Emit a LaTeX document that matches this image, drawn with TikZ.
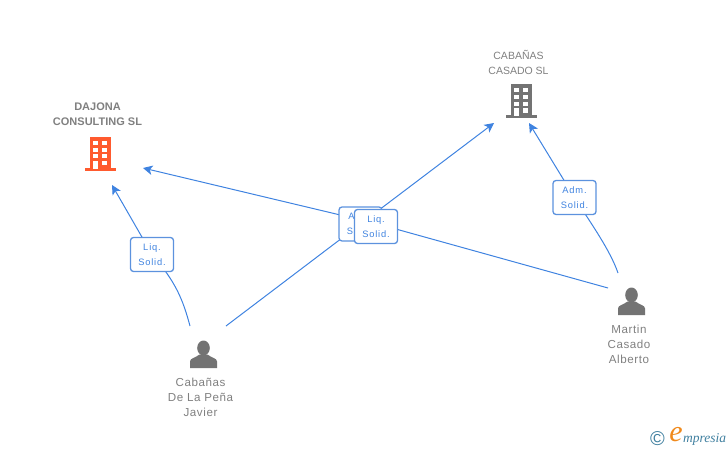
\documentclass[tikz,border=0pt]{standalone}
\usepackage{fontspec}
\setmainfont{Liberation Sans}
\newfontfamily\boxfont[LetterSpace=9]{Liberation Sans}
\newfontfamily\persfont[LetterSpace=5]{Liberation Sans}
\newfontfamily\logofont{Liberation Serif}
\usetikzlibrary{arrows.meta,backgrounds}
\definecolor{linkblue}{HTML}{3F83E0}
\definecolor{boxblue}{HTML}{5C92DE}
\definecolor{labelgray}{HTML}{808080}
\definecolor{icongray}{HTML}{737373}
\definecolor{iconred}{HTML}{FF5A2E}
\definecolor{logoblue}{HTML}{3F7F9F}
\definecolor{logoorange}{HTML}{F08A1D}
\tikzset{
    link/.style={linkblue,line width=1pt},
    tiplink/.style={link,-{Stealth[length=9.5pt,width=9.5pt,inset=2.5pt]}},
    rolebox/.style={draw=boxblue,line width=1.3pt,fill=white,rounded corners=3pt,minimum width=43pt,minimum height=34pt,inner sep=0pt,align=center,text=linkblue,font=\boxfont\fontsize{9.3}{15}\selectfont},
    company/.style={text=labelgray,align=center,inner sep=0pt,font=\fontsize{10.5}{15}\selectfont},
    person/.style={text=labelgray,align=center,inner sep=0pt,font=\persfont\fontsize{11.6}{15}\selectfont},
    building/.pic={
        \fill[pic actions](-10.5,-17)rectangle(10.5,15);
        \fill[pic actions](-15.5,14)rectangle(15.5,17);
        \foreach \wy in {-13,-6,0.5}{
            \fill[white](-7,\wy)rectangle(-2.3,\wy+4.4);
            \fill[white](2.3,\wy)rectangle(7.3,\wy+4.4);
        }
        \fill[white](2.3,7.2)rectangle(7.3,11.6);
        \fill[white](-7,7.2)rectangle(-2.3,15);
    },
    figure/.pic={
        \fill[pic actions](0,-6.5)ellipse(6.3 and 7.5);
        \fill[pic actions](-13.5,13.5)--(-13.5,7).. controls (-13.5,3.5) and (-8,3.5) .. (-4,0)--(4,0).. controls (8,3.5) and (13.5,3.5) .. (13.5,7)--(13.5,13.5)--cycle;
    }
}
\begin{document}
\begin{tikzpicture}[x=1pt,y=-1pt]
    \useasboundingbox(0,0)rectangle(728,450);

    \node[company,font=\bfseries\fontsize{11}{15}\selectfont](dajona)at(97.5,114.5){DAJONA\\CONSULTING SL};
    \node[company](casado)at(518.5,62.5){CABAÑAS\\CASADO SL};
    \node[person](javier)at(200.5,397){Cabañas\\De La Peña\\Javier};
    \node[person](martin)at(629,344){Martin\\Casado\\Alberto};

    \pic[fill=iconred]at(100,153.5){building};
    \pic[fill=icongray]at(521,101){building};
    \pic[fill=icongray]at(203.5,354.5){figure};
    \pic[fill=icongray]at(631.5,301.5){figure};

    \node[rolebox](liqleft)at(152,254.5){Liq.\\Solid.};
    \node[rolebox](admright)at(574.5,197.5){Adm.\\Solid.};
    \node[rolebox](admmid)at(360.5,224){Adm.\\Solid.};
    \node[rolebox](liqmid)at(376,226.5){Liq.\\Solid.};

    %%free ends of the connectors
    \coordinate(javierA)at(190,326);
    \coordinate(javierB)at(226,326);
    \coordinate(martinA)at(608,288);
    \coordinate(martinB)at(618,273);
    \coordinate(dajonaA)at(112,185);
    \coordinate(dajonaB)at(143,168);
    \coordinate(casadoA)at(494,123);
    \coordinate(casadoB)at(529,123);
    \coordinate(liqmidc)at(376,223.5);

    \begin{scope}[on background layer]
        \draw[link](javierA).. controls (183,300) and (176,282) .. (liqleft.center);
        \draw[tiplink](liqleft.center)--(dajonaA);
        \draw[link](martinB).. controls (610,250) and (592,225) .. (admright.center);
        \draw[tiplink](admright.center)--(casadoB);
        \draw[link](javierB)--(admmid.center);
        \draw[tiplink](admmid.center)--(casadoA);
        \draw[link](martinA)--(liqmidc);
        \draw[tiplink](liqmidc)--(dajonaB);
    \end{scope}

    \node[text=logoblue,inner sep=0pt,font=\fontsize{20}{20}\selectfont](copyr)at(657.5,438.5){©};
    \node[text=logoorange,inner sep=0pt,font=\logofont\itshape\fontsize{30}{30}\selectfont](logoe)at(676,435){e};
    \node[text=logoblue,inner sep=0pt,anchor=base west,font=\logofont\itshape\fontsize{13.5}{13.5}\selectfont](logotxt)at(683,442){mpresia};
\end{tikzpicture}
\end{document}
